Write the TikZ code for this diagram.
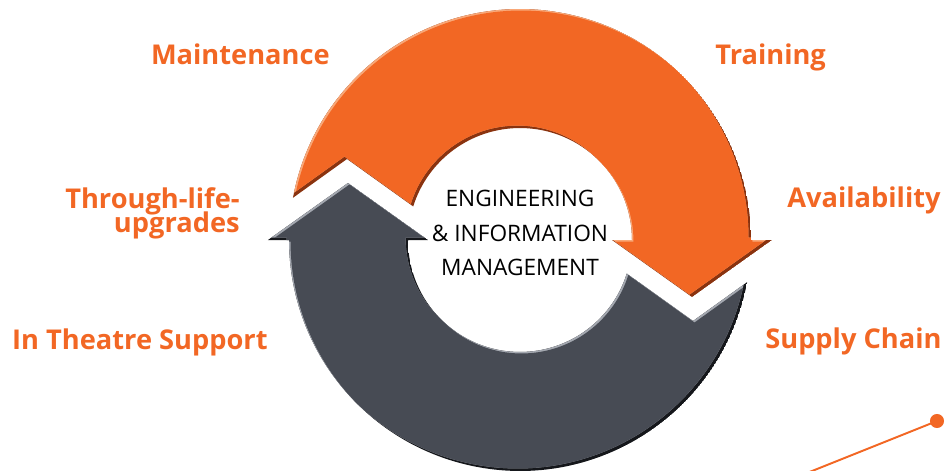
\documentclass[tikz,border=0pt]{standalone}
\usepackage{fontspec}
\setmainfont{Open Sans}
\definecolor{eimorange}{HTML}{F26724}
\definecolor{eimorangelight}{HTML}{F9A878}
\definecolor{eimorangedark}{HTML}{8A330F}
\definecolor{eimgray}{HTML}{474B54}
\definecolor{eimgraylight}{HTML}{A4A8B0}
\definecolor{eimgraydark}{HTML}{15171B}
% the two halves of the cycle, 1 unit = 1px, centre of the ring at (0,0)
\newcommand{\orangearrow}{(169.47:4.62cm) arc[start angle=169.47, end angle=0, radius=4.62cm] -- (252,0) -- (172,-57) -- (92,0) -- (112,0) arc[start angle=0, end angle=162.55, radius=2.24cm] -- (-173,81) -- cycle}
\newcommand{\grayarrow}{(-10.53:4.62cm) arc[start angle=-10.53, end angle=-180, radius=4.62cm] -- (-252,0) -- (-172,57) -- (-92,0) -- (-112,0) arc[start angle=180, end angle=342.55, radius=2.24cm] -- (173,-81) -- cycle}
\tikzset{
  lbl/.style={inner sep=0, text=eimorange, font=\fontsize{15.5}{13.6}\selectfont\bfseries},
  tightlines/.style={execute at begin node={\setlength{\lineskiplimit}{-20pt}}},
}
\begin{document}
\begin{tikzpicture}[x=0.02cm,y=0.02cm]
\useasboundingbox (-520,-230) rectangle (425,240);
% orange half
\begin{scope}
\clip \orangearrow;
\fill[eimorangedark] \orangearrow;
\fill[eimorangelight, shift={(-2.5,2.5)}] \orangearrow;
\clip[shift={(1.5,-1.5)}] \orangearrow;
\fill[eimorange, shift={(-2.5,2.5)}] \orangearrow;
\end{scope}
% gray half
\begin{scope}
\clip \grayarrow;
\fill[eimgraydark] \grayarrow;
\fill[eimgraylight, shift={(-2.5,2.5)}] \grayarrow;
\clip[shift={(1.5,-1.5)}] \grayarrow;
\fill[eimgray, shift={(-2.5,2.5)}] \grayarrow;
\end{scope}
\node[align=center, inner sep=0, font=\fontsize{12.9}{19.8}\selectfont] (hub) at (0,7) {ENGINEERING\\\& INFORMATION\\MANAGEMENT};
\node[lbl, anchor=base east] (lblmaint) at (-190,175) {Maintenance};
\node[lbl, anchor=base west] (lbltrain) at (195,175) {Training};
\node[lbl, tightlines, anchor=base east, align=right] (lblupgrade) at (-280,8) {Through-life-\\upgrades};
\node[lbl, anchor=base west] (lblavail) at (267,33) {Availability};
\node[lbl, anchor=base east] (lbltheatre) at (-252,-109) {In Theatre Support};
\node[lbl, anchor=base west] (lblsupply) at (245,-108) {Supply Chain};
% pointer line running out of the frame
\node[circle, fill=eimorange, inner sep=0, minimum size=8] (dot) at (417,-181) {};
\coordinate (lineend) at (277,-237);
\draw[eimorange, line width=1.1pt] (dot.center) -- (lineend);
\end{tikzpicture}
\end{document}
